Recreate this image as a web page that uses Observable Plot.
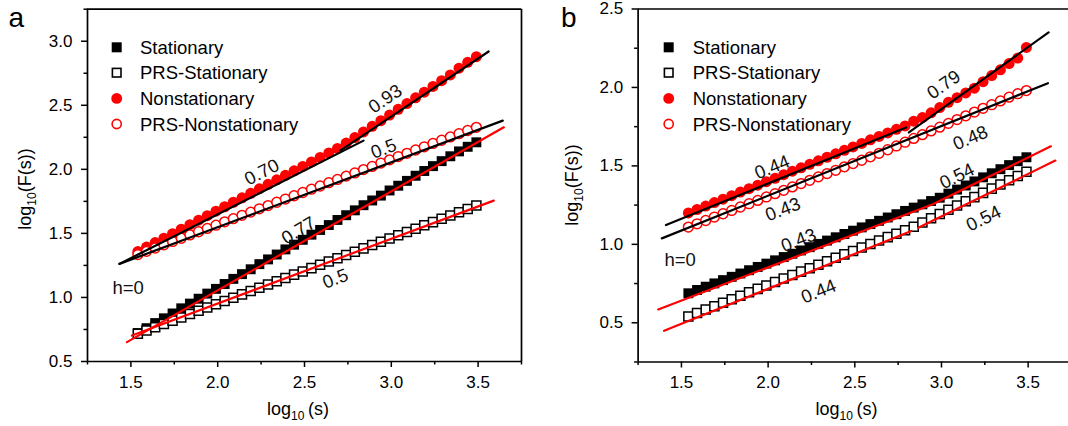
<!DOCTYPE html>
<html><head><meta charset="utf-8">
<script src="https://cdn.jsdelivr.net/npm/d3@7"></script>
<script src="https://cdn.jsdelivr.net/npm/@observablehq/plot@0.6"></script>
<style>
html,body{margin:0;padding:0;background:#fff;overflow:hidden;}
#wrap{position:relative;width:1068px;height:426px;overflow:hidden;background:#fff;}
#wrap svg{position:absolute;top:0;}
</style></head><body><div id="wrap"></div>
<script>
// log10(s) sample positions
const logS = [1.54,1.59,1.64,1.69,1.74,1.79,1.84,1.89,1.94,1.99,2.04,2.09,2.14,2.19,2.24,2.29,2.34,2.39,2.44,2.49,
              2.54,2.59,2.64,2.69,2.74,2.79,2.84,2.89,2.94,2.99,3.04,3.09,3.14,3.19,3.24,3.29,3.34,3.39,3.44,3.49];

// Panel a series: log10(F(s))
const aStationary = [0.722,0.760,0.800,0.837,0.875,0.915,0.952,0.990,1.030,1.067,1.105,1.145,1.182,1.220,1.260,1.297,1.335,1.375,1.412,1.450,
                     1.490,1.527,1.565,1.605,1.642,1.680,1.720,1.757,1.795,1.835,1.872,1.910,1.950,1.987,2.025,2.064,2.102,2.140,2.176,2.211];
const aPrsStationary = [0.716,0.742,0.768,0.793,0.819,0.844,0.870,0.896,0.922,0.947,0.973,0.998,1.024,1.050,1.075,1.101,1.127,1.152,1.178,1.203,
                        1.229,1.255,1.280,1.306,1.332,1.357,1.383,1.409,1.434,1.460,1.486,1.511,1.537,1.563,1.588,1.614,1.640,1.665,1.691,1.717];
const aNonstationary = [1.358,1.393,1.428,1.463,1.498,1.533,1.568,1.603,1.638,1.673,1.708,1.743,1.778,1.813,1.848,1.883,1.918,1.953,1.988,2.023,
                        2.058,2.093,2.128,2.163,2.205,2.248,2.292,2.336,2.380,2.424,2.469,2.513,2.558,2.602,2.647,2.692,2.737,2.790,2.835,2.879];
const aPrsNonstationary = [1.335,1.360,1.386,1.411,1.437,1.462,1.488,1.513,1.539,1.564,1.590,1.615,1.641,1.666,1.692,1.717,1.743,1.768,1.794,1.819,
                           1.845,1.870,1.896,1.921,1.947,1.972,1.998,2.023,2.049,2.074,2.100,2.125,2.151,2.176,2.202,2.227,2.253,2.278,2.303,2.328];

// Panel b series
const bStationary = [0.688,0.709,0.730,0.751,0.772,0.793,0.814,0.835,0.856,0.877,0.898,0.919,0.940,0.961,0.982,1.003,1.024,1.045,1.066,1.087,
                     1.108,1.129,1.150,1.171,1.192,1.213,1.234,1.255,1.276,1.297,1.323,1.349,1.375,1.401,1.427,1.453,1.479,1.505,1.530,1.555];
const bPrsStationary = [0.540,0.562,0.584,0.606,0.628,0.650,0.672,0.694,0.716,0.738,0.760,0.782,0.804,0.826,0.848,0.870,0.892,0.914,0.936,0.958,
                        0.980,1.002,1.024,1.046,1.068,1.090,1.112,1.139,1.166,1.193,1.220,1.247,1.274,1.301,1.328,1.355,1.382,1.409,1.436,1.463];
const bNonstationary = [1.200,1.222,1.244,1.266,1.288,1.310,1.333,1.355,1.377,1.399,1.421,1.444,1.466,1.488,1.510,1.532,1.555,1.577,1.599,1.621,
                        1.643,1.666,1.688,1.710,1.733,1.755,1.785,1.808,1.838,1.872,1.905,1.935,1.965,1.995,2.037,2.076,2.112,2.152,2.187,2.255];
const bPrsNonstationary = [1.110,1.131,1.152,1.174,1.195,1.216,1.238,1.259,1.280,1.302,1.323,1.344,1.366,1.387,1.408,1.430,1.451,1.472,1.494,1.515,
                           1.536,1.558,1.580,1.603,1.627,1.651,1.675,1.699,1.723,1.747,1.771,1.795,1.819,1.843,1.867,1.890,1.914,1.938,1.960,1.980];

// Fit lines (endpoints)
const aFitBlack = [
  [[1.434,1.262],[2.840,2.224]],   // 0.70
  [[2.706,2.146],[3.561,2.920]],   // 0.93
  [[1.434,1.262],[3.642,2.380]]    // 0.5
];
const aFitRed = [
  [[1.477,0.651],[3.648,2.328]],   // 0.77
  [[1.506,0.703],[3.590,1.756]]    // 0.5
];
const bFitBlack = [
  [[1.411,1.123],[2.796,1.745]],   // 0.44
  [[2.812,1.713],[3.618,2.351]],   // 0.79
  [[1.387,1.038],[3.614,2.027]]    // 0.43 / 0.48
];
const bFitRed = [
  [[1.366,0.585],[2.950,1.255],[3.631,1.625]],  // 0.43 / 0.54
  [[1.400,0.449],[2.826,1.085]],                // 0.44
  [[2.866,1.105],[3.657,1.534]]                 // 0.54
];

// Slope annotations
const aLabels = [
  {t:"0.93", x:2.966, y:2.549, a:-34},
  {t:"0.70", x:2.255, y:1.977, a:-27},
  {t:"0.5",  x:2.956, y:2.159, a:-21},
  {t:"0.77", x:2.466, y:1.522, a:-31},
  {t:"0.5",  x:2.678, y:1.145, a:-21},
  {t:"h=0",  x:1.484, y:1.077, a:0}
];
const bLabels = [
  {t:"0.44", x:2.023, y:1.491, a:-22},
  {t:"0.79", x:3.013, y:2.017, a:-35},
  {t:"0.43", x:2.086, y:1.222, a:-21},
  {t:"0.48", x:3.167, y:1.677, a:-23},
  {t:"0.43", x:2.176, y:1.025, a:-21},
  {t:"0.54", x:3.090, y:1.434, a:-26},
  {t:"0.44", x:2.292, y:0.699, a:-22},
  {t:"0.54", x:3.243, y:1.165, a:-26},
  {t:"h=0",  x:1.4925, y:0.897, a:0}
];

const legendNames = ["Stationary","PRS-Stationary","Nonstationary","PRS-Nonstationary"];
const xMajor = [1.5,2.0,2.5,3.0,3.5];
const xMinor = [1.25,1.75,2.25,2.75,3.25,3.75];
const aYMajor = [0.5,1.0,1.5,2.0,2.5,3.0];
const aYMinor = [0.75,1.25,1.75,2.25,2.75,3.25];
const bYMajor = [0.5,1.0,1.5,2.0,2.5];
const bYMinor = [0.25,0.75,1.25,1.75,2.25];

const FONT = '"Liberation Sans", Arial, Helvetica, sans-serif';

function buildPanel(cfg) {
  const rows = ys => logS.map((x, i) => ({x, y: ys[i]}));
  const px = d => d[0], py = d => d[1];
  const svg = Plot.plot({
    width: cfg.width, height: 426,
    marginLeft: cfg.ml, marginRight: cfg.mr, marginTop: cfg.mt, marginBottom: cfg.mb,
    x: {domain: [1.25, 3.75], label: null},
    y: {domain: cfg.yDomain, label: null},
    style: {fontFamily: FONT, fontSize: "16.5px", overflow: "visible", maxWidth: "none", background: "white", color: "black"},
    marks: [
      Plot.axisY(cfg.yMajor, {tickSize: 6, tickPadding: 9, tickFormat: d => d.toFixed(1), fontSize: 17, strokeWidth: 1.5, label: null}),
      Plot.axisY(cfg.yMinor, {tickSize: 3.5, tickFormat: () => "", strokeWidth: 1.5, label: null}),
      Plot.axisX(xMajor, {tickSize: 6, tickPadding: 8, tickFormat: d => d.toFixed(1), fontSize: 17, strokeWidth: 1.5, label: null}),
      Plot.axisX(xMinor, {tickSize: 3.5, tickFormat: () => "", strokeWidth: 1.5, label: null}),
      Plot.dot(rows(cfg.stat), {x: "x", y: "y", symbol: "square", r: 5.6, fill: "black"}),
      Plot.dot(rows(cfg.prsStat), {x: "x", y: "y", symbol: "square", r: 5.1, fill: "white", stroke: "black", strokeWidth: 1.5}),
      Plot.dot(rows(cfg.non), {x: "x", y: "y", symbol: "circle", r: 5.5, fill: "#ff0000"}),
      Plot.dot(rows(cfg.prsNon), {x: "x", y: "y", symbol: "circle", r: 4.9, fill: "white", stroke: "#ff0000", strokeWidth: 1.5}),
      ...cfg.blackFits.map(f => Plot.line(f, {x: px, y: py, stroke: "black", strokeWidth: 2.2})),
      ...cfg.redFits.map(f => Plot.line(f, {x: px, y: py, stroke: "#ff0000", strokeWidth: 2.2})),
      Plot.text(cfg.labels, {x: "x", y: "y", text: "t", rotate: "a", fontSize: 18.5, fill: "#111"}),
      Plot.ruleX([1.25, 3.75], {stroke: "black", strokeWidth: 1.7}),
      Plot.ruleY(cfg.yDomain, {stroke: "black", strokeWidth: 1.7})
    ]
  });
  svg.style.left = cfg.left + "px";
  const s = d3.select(svg);
  // panel letter
  s.append("text").attr("x", cfg.letterX).attr("y", 27).attr("font-size", 28).attr("text-anchor", "start")
    .attr("font-family", FONT).attr("fill", "black").text(cfg.letter);
  // y axis title
  const yt = s.append("text").attr("transform", `translate(${cfg.yTitleX},${cfg.yTitleY}) rotate(-90)`)
    .attr("text-anchor", "middle").attr("font-size", 18).attr("font-family", FONT).attr("fill", "black");
  yt.append("tspan").text("log");
  yt.append("tspan").attr("font-size", 12).attr("dy", 4.5).text("10");
  yt.append("tspan").attr("dy", -4.5).text("(F(s))");
  // x axis title
  const xt = s.append("text").attr("x", cfg.xTitleX).attr("y", 415)
    .attr("text-anchor", "middle").attr("font-size", 18).attr("font-family", FONT).attr("fill", "black");
  xt.append("tspan").text("log");
  xt.append("tspan").attr("font-size", 12).attr("dy", 4.5).text("10");
  xt.append("tspan").attr("dy", -4.5).text("\u2009(s)");
  // legend
  const rowsY = [47.3, 72.7, 98.4, 124];
  const lg = s.append("g").attr("font-family", FONT).attr("font-size", 18.5).attr("text-anchor", "start");
  legendNames.forEach((name, i) => {
    const cx = cfg.legX, cy = rowsY[i];
    if (i === 0) lg.append("rect").attr("x", cx - 5).attr("y", cy - 5).attr("width", 10).attr("height", 10).attr("fill", "black");
    if (i === 1) lg.append("rect").attr("x", cx - 4.3).attr("y", cy - 4.3).attr("width", 8.6).attr("height", 8.6).attr("fill", "white").attr("stroke", "black").attr("stroke-width", 1.6);
    if (i === 2) lg.append("circle").attr("cx", cx).attr("cy", cy).attr("r", 5.4).attr("fill", "#ff0000");
    if (i === 3) lg.append("circle").attr("cx", cx).attr("cy", cy).attr("r", 4.6).attr("fill", "white").attr("stroke", "#ff0000").attr("stroke-width", 1.6);
    lg.append("text").attr("x", cfg.legTextX).attr("y", cy).attr("dy", "0.36em").attr("fill", "black").text(name);
  });
  return svg;
}

const wrap = document.getElementById("wrap");
wrap.appendChild(buildPanel({
  left: 0, width: 534, ml: 87, mr: 13, mt: 8.7, mb: 65, yDomain: [0.5, 3.25],
  yMajor: aYMajor, yMinor: aYMinor,
  stat: aStationary, prsStat: aPrsStationary, non: aNonstationary, prsNon: aPrsNonstationary,
  blackFits: aFitBlack, redFits: aFitRed, labels: aLabels,
  letter: "a", letterX: 8.5, yTitleX: 31, yTitleY: 189, xTitleX: 298,
  legX: 116.7, legTextX: 140
}));
wrap.appendChild(buildPanel({
  left: 534, width: 550, ml: 103.6, mr: 13, mt: 8.5, mb: 64.5, yDomain: [0.25, 2.5],
  yMajor: bYMajor, yMinor: bYMinor,
  stat: bStationary, prsStat: bPrsStationary, non: bNonstationary, prsNon: bPrsNonstationary,
  blackFits: bFitBlack, redFits: bFitRed, labels: bLabels,
  letter: "b", letterX: 27, yTitleX: 44, yTitleY: 185, xTitleX: 312.5,
  legX: 134.7, legTextX: 158.7
}));
</script></body></html>
